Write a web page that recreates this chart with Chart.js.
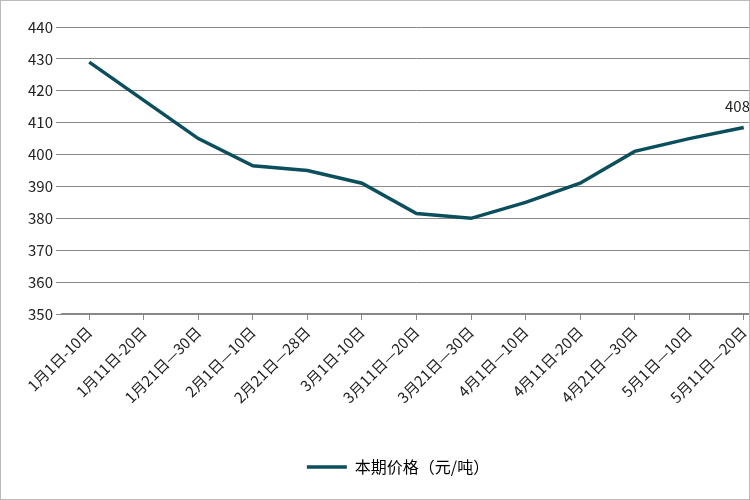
<!DOCTYPE html>
<html>
<head>
<meta charset="utf-8">
<script src="https://cdn.jsdelivr.net/npm/chart.js@4/dist/chart.umd.min.js"></script>
<style>
  html, body { margin: 0; padding: 0; background: #fff; overflow: hidden; }
  #wrap { width: 750px; height: 500px; overflow: hidden; position: relative; box-sizing: border-box; border: 1px solid #bbb; }
  #box { width: 770px; height: 500px; }
</style>
</head>
<body>
<div id="wrap"><div id="box"><canvas id="priceChart"></canvas></div></div>
<script>
  const categories = ['1月1日-10日', '1月11日-20日', '1月21日—30日', '2月1日—10日', '2月21日—28日',
    '3月1日-10日', '3月11日—20日', '3月21日—30日', '4月1日—10日', '4月11日-20日',
    '4月21日—30日', '5月1日—10日', '5月11日—20日'];
  const prices = [429, 417, 405, 396.5, 395, 391, 381.5, 380, 385, 391, 401, 405, 408.5];
  const seriesName = '本期价格（元/吨）';

  // label on the last point only
  const lastLabel = {
    id: 'lastLabel',
    afterDatasetsDraw(chart) {
      const meta = chart.getDatasetMeta(0);
      const pt = meta.data[meta.data.length - 1];
      const c = chart.ctx;
      c.save();
      c.font = '15px "Noto Sans CJK SC"';
      c.fillStyle = '#222';
      c.textAlign = 'center';
      c.textBaseline = 'bottom';
      c.fillText(String(prices[prices.length - 1]), pt.x, pt.y - 14);
      c.restore();
    }
  };

  const ctx = document.getElementById('priceChart').getContext('2d');
  new Chart(ctx, {
    type: 'line',
    data: {
      labels: categories,
      datasets: [{
        label: seriesName,
        data: prices,
        borderColor: '#0b4f5c',
        backgroundColor: '#0b4f5c',
        borderWidth: 3.5,
        pointRadius: 0,
        tension: 0
      }]
    },
    options: {
      responsive: true,
      maintainAspectRatio: false,
      animation: false,
      layout: { padding: { top: 26, left: 24, right: 0, bottom: 16 } },
      scales: {
        x: {
          offset: true,
          afterFit(scale) { scale.height = 135; },
          grid: { display: true, drawOnChartArea: false, color: '#888', tickLength: 6 },
          border: { color: '#888', width: 1.5 },
          ticks: { color: '#222', font: { size: 15, family: '"Noto Sans CJK SC"' }, maxRotation: 45, minRotation: 45, autoSkip: false }
        },
        y: {
          min: 350,
          max: 440,
          grid: { color: '#888', drawTicks: true, tickLength: 6 },
          border: { display: false },
          ticks: { stepSize: 10, color: '#222', font: { size: 15, family: '"Noto Sans CJK SC"' } }
        }
      },
      plugins: {
        legend: {
          position: 'bottom',
          labels: {
            color: '#222',
            font: { size: 16, family: '"Noto Sans CJK SC"' },
            boxWidth: 40,
            boxHeight: 0,
            padding: 10,
            generateLabels(chart) {
              return [{ text: seriesName, strokeStyle: '#0b4f5c', fillStyle: '#0b4f5c', lineWidth: 3.5, datasetIndex: 0 }];
            }
          }
        },
        tooltip: { enabled: false }
      }
    },
    plugins: [lastLabel]
  });
</script>
</body>
</html>
